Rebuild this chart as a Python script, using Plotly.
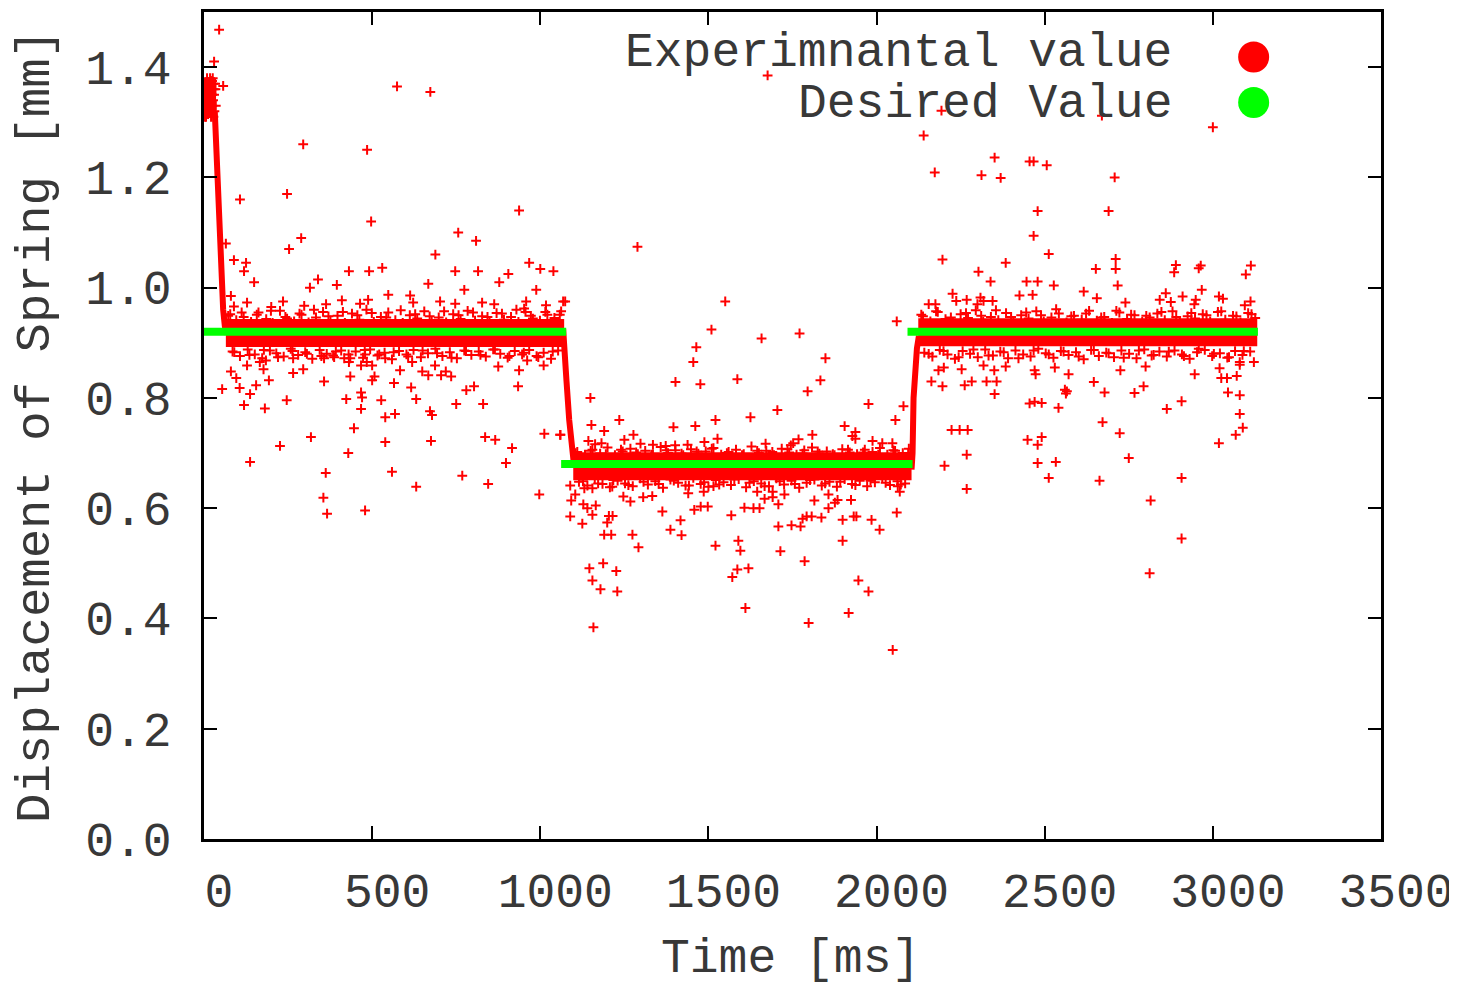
import plotly.graph_objects as go

# ---------------- data ----------------
# desired (set-point) value, three steps
desired_t = [0, 1077, None, 1062, 2107, None, 2092, 3134]
desired_v = [0.92, 0.92, None, 0.68, 0.68, None, 0.92, 0.92]

# dense core of the measured response on the three plateaus
plateau_t = [65, 1071, None, 1098, 2104, None, 2124, 3132]
plateau_v = [0.918, 0.918, None, 0.676, 0.676, None, 0.919, 0.919]

# dense initial cluster of samples
onset_t = [12, 12]
onset_v = [1.318, 1.378]

# measured response during the transitions
step_t = [32, 38, 44, 48, 52, 57, 62, 68, None,
          1068, 1072, 1078, 1086, 1094, 1100, None,
          2104, 2107, 2110, 2115, 2120, 2126]
step_v = [1.32, 1.22, 1.15, 1.09, 1.02, 0.96, 0.93, 0.915, None,
          0.925, 0.87, 0.83, 0.76, 0.70, 0.68, None,
          0.67, 0.70, 0.80, 0.85, 0.89, 0.913]

# initial cluster of samples (t, value)
start_cluster = [(1, 1.35), (2, 1.34), (3, 1.31), (4, 1.33), (5, 1.36), (6, 1.37), (7, 1.32),
                 (8, 1.33), (9, 1.38), (10, 1.35), (11, 1.34), (12, 1.37), (13, 1.35), (14, 1.33),
                 (15, 1.32), (16, 1.34), (17, 1.36), (18, 1.38), (19, 1.32), (20, 1.34), (21, 1.31),
                 (22, 1.36), (23, 1.35), (24, 1.35), (25, 1.33), (26, 1.38), (27, 1.34), (28, 1.37),
                 (29, 1.36), (30, 1.35), (31, 1.32), (33, 1.37), (34, 1.36), (35, 1.33), (2, 1.37),
                 (6, 1.31), (12, 1.315), (18, 1.325), (24, 1.375), (28, 1.31), (30, 1.41),
                 (45, 1.468), (57, 1.366)]

# samples scattered just above / below the dense band on each plateau
band1_above_t = [78, 96, 118, 140, 162, 185, 204, 226, 247, 268, 290, 311, 333, 354, 376, 397,
                 419, 440, 462, 483, 505, 526, 548, 569, 591, 612, 634, 655, 677, 698, 720, 741,
                 763, 784, 806, 827, 849, 870, 892, 913, 935, 956, 978, 999, 1021, 1042, 1062]
band1_above_v = [0.952, 0.941, 0.947, 0.938, 0.955, 0.943, 0.936, 0.958, 0.944, 0.939, 0.951,
                 0.937, 0.946, 0.956, 0.940, 0.949, 0.936, 0.953, 0.942, 0.960, 0.938, 0.947,
                 0.955, 0.941, 0.936, 0.950, 0.944, 0.957, 0.939, 0.946, 0.937, 0.952, 0.943,
                 0.958, 0.940, 0.948, 0.936, 0.954, 0.942, 0.947, 0.938, 0.956, 0.944, 0.940,
                 0.951, 0.945, 0.957]
band1_below_t = [85, 107, 130, 151, 173, 196, 215, 237, 258, 280, 301, 322, 344, 365, 387, 408,
                 430, 451, 473, 494, 516, 537, 559, 580, 602, 623, 645, 666, 688, 709, 731, 752,
                 774, 795, 817, 838, 860, 881, 903, 924, 946, 967, 989, 1010, 1032, 1053]
band1_below_v = [0.884, 0.876, 0.888, 0.879, 0.872, 0.886, 0.881, 0.875, 0.889, 0.878, 0.883,
                 0.871, 0.887, 0.880, 0.874, 0.886, 0.879, 0.884, 0.873, 0.888, 0.877, 0.882,
                 0.870, 0.885, 0.879, 0.887, 0.874, 0.881, 0.889, 0.876, 0.883, 0.872, 0.886,
                 0.878, 0.884, 0.875, 0.888, 0.880, 0.873, 0.885, 0.879, 0.887, 0.876, 0.882,
                 0.871, 0.886]
band1_extra_t = [72, 90, 112, 135, 157, 178, 199, 220, 242, 263, 284, 306, 327, 349, 370, 392,
                 413, 435, 456, 478, 499, 521, 542, 564, 585, 607, 628, 650, 671, 693, 714, 736,
                 757, 779, 800, 822, 843, 865, 886, 908, 929, 951, 972, 994, 1015, 1037, 1058]
band1_extra_v = [0.949, 0.883, 0.955, 0.878, 0.951, 0.887, 0.958, 0.874, 0.947, 0.885, 0.953,
                 0.880, 0.960, 0.876, 0.948, 0.884, 0.956, 0.872, 0.950, 0.887, 0.954, 0.879,
                 0.946, 0.883, 0.959, 0.875, 0.952, 0.886, 0.948, 0.881, 0.957, 0.873, 0.950,
                 0.885, 0.955, 0.878, 0.947, 0.888, 0.953, 0.876, 0.960, 0.882, 0.949, 0.874,
                 0.956, 0.884, 0.951]
band2_above_t = [1110, 1133, 1155, 1178, 1200, 1222, 1245, 1268, 1290, 1312, 1335, 1358, 1380,
                 1402, 1425, 1448, 1470, 1492, 1515, 1538, 1560, 1582, 1605, 1628, 1650, 1672,
                 1695, 1718, 1740, 1762, 1785, 1808, 1830, 1852, 1875, 1898, 1920, 1942, 1965,
                 1988, 2010, 2032, 2055, 2078, 2096]
band2_above_v = [0.702, 0.697, 0.706, 0.699, 0.710, 0.696, 0.703, 0.708, 0.698, 0.704, 0.697,
                 0.711, 0.700, 0.705, 0.696, 0.707, 0.699, 0.703, 0.709, 0.697, 0.702, 0.706,
                 0.698, 0.712, 0.700, 0.704, 0.696, 0.708, 0.701, 0.697, 0.705, 0.710, 0.699,
                 0.703, 0.696, 0.707, 0.701, 0.698, 0.706, 0.702, 0.709, 0.697, 0.704, 0.700,
                 0.708]
band2_below_t = [1115, 1140, 1162, 1185, 1207, 1230, 1252, 1275, 1297, 1320, 1342, 1365, 1387,
                 1410, 1432, 1455, 1477, 1500, 1522, 1545, 1567, 1590, 1612, 1635, 1657, 1680,
                 1702, 1725, 1747, 1770, 1792, 1815, 1837, 1860, 1882, 1905, 1927, 1950, 1972,
                 1995, 2017, 2040, 2062, 2085]
band2_below_v = [0.648, 0.641, 0.653, 0.644, 0.638, 0.650, 0.645, 0.640, 0.654, 0.643, 0.649,
                 0.637, 0.652, 0.646, 0.641, 0.655, 0.644, 0.639, 0.651, 0.647, 0.642, 0.653,
                 0.638, 0.649, 0.645, 0.640, 0.654, 0.643, 0.650, 0.637, 0.646, 0.652, 0.641,
                 0.648, 0.639, 0.653, 0.644, 0.650, 0.640, 0.647, 0.655, 0.642, 0.649, 0.645]
band2_extra_t = [1105, 1127, 1150, 1172, 1195, 1217, 1240, 1262, 1285, 1307, 1330, 1352, 1375,
                 1397, 1420, 1442, 1465, 1487, 1510, 1532, 1555, 1577, 1600, 1622, 1645, 1667,
                 1690, 1712, 1735, 1757, 1780, 1802, 1825, 1847, 1870, 1892, 1915, 1937, 1960,
                 1982, 2005, 2027, 2050, 2072, 2094]
band2_extra_v = [0.700, 0.649, 0.704, 0.645, 0.698, 0.651, 0.706, 0.642, 0.701, 0.648, 0.697,
                 0.644, 0.705, 0.650, 0.699, 0.641, 0.703, 0.647, 0.708, 0.643, 0.700, 0.652,
                 0.696, 0.646, 0.704, 0.640, 0.702, 0.649, 0.707, 0.644, 0.699, 0.651, 0.703,
                 0.645, 0.698, 0.648, 0.706, 0.642, 0.701, 0.650, 0.697, 0.646, 0.705, 0.643,
                 0.700]
band3_above_t = [2138, 2160, 2182, 2205, 2227, 2250, 2272, 2295, 2317, 2340, 2362, 2385, 2407,
                 2430, 2452, 2475, 2497, 2520, 2542, 2565, 2587, 2610, 2632, 2655, 2677, 2700,
                 2722, 2745, 2767, 2790, 2812, 2835, 2857, 2880, 2902, 2925, 2947, 2970, 2992,
                 3015, 3037, 3060, 3082, 3105, 3126]
band3_above_v = [0.948, 0.939, 0.956, 0.943, 0.936, 0.952, 0.945, 0.959, 0.938, 0.947, 0.941,
                 0.954, 0.936, 0.950, 0.944, 0.957, 0.939, 0.946, 0.953, 0.937, 0.949, 0.942,
                 0.958, 0.940, 0.947, 0.936, 0.955, 0.943, 0.950, 0.938, 0.946, 0.953, 0.941,
                 0.957, 0.936, 0.948, 0.944, 0.952, 0.939, 0.956, 0.942, 0.949, 0.937, 0.954,
                 0.945]
band3_below_t = [2142, 2166, 2188, 2211, 2233, 2256, 2278, 2301, 2323, 2346, 2368, 2391, 2413,
                 2436, 2458, 2481, 2503, 2526, 2548, 2571, 2593, 2616, 2638, 2661, 2683, 2706,
                 2728, 2751, 2773, 2796, 2818, 2841, 2863, 2886, 2908, 2931, 2953, 2976, 2998,
                 3021, 3043, 3066, 3088, 3111]
band3_below_v = [0.882, 0.875, 0.887, 0.879, 0.871, 0.885, 0.880, 0.874, 0.888, 0.877, 0.884,
                 0.872, 0.886, 0.879, 0.875, 0.889, 0.881, 0.873, 0.885, 0.878, 0.883, 0.870,
                 0.887, 0.876, 0.882, 0.874, 0.886, 0.880, 0.872, 0.888, 0.877, 0.884, 0.875,
                 0.886, 0.879, 0.871, 0.883, 0.887, 0.876, 0.881, 0.873, 0.885, 0.878, 0.884]
band3_extra_t = [2133, 2155, 2177, 2199, 2221, 2244, 2266, 2288, 2311, 2333, 2355, 2378, 2400,
                 2422, 2445, 2467, 2489, 2512, 2534, 2556, 2579, 2601, 2623, 2646, 2668, 2690,
                 2713, 2735, 2757, 2780, 2802, 2824, 2847, 2869, 2891, 2914, 2936, 2958, 2981,
                 3003, 3025, 3048, 3070, 3092, 3115]
band3_extra_v = [0.951, 0.880, 0.957, 0.885, 0.946, 0.874, 0.954, 0.888, 0.949, 0.877, 0.959,
                 0.883, 0.947, 0.872, 0.955, 0.886, 0.950, 0.879, 0.961, 0.884, 0.948, 0.875,
                 0.953, 0.887, 0.946, 0.881, 0.958, 0.873, 0.951, 0.886, 0.949, 0.878, 0.956,
                 0.884, 0.947, 0.876, 0.954, 0.889, 0.950, 0.880, 0.957, 0.874, 0.948, 0.885,
                 0.952]

# isolated outlying samples (t [ms], value [mm])
outliers_first_high = [(295, 1.26), (485, 1.25), (107, 1.16), (247, 1.17), (937, 1.14), (497, 1.12),
                       (289, 1.09), (756, 1.10), (809, 1.085), (253, 1.07), (65, 1.08), (688, 1.06),
                       (89, 1.05), (125, 1.045), (119, 1.03), (149, 1.01), (967, 1.045), (530, 1.036),
                       (491, 1.03), (431, 1.03), (339, 1.015), (315, 1.00), (395, 1.005), (747, 1.03),
                       (815, 1.03), (1000, 1.034), (1039, 1.03), (905, 1.025), (878, 1.01), (667, 1.007),
                       (774, 0.996), (988, 0.996), (548, 0.987), (613, 0.986), (80, 0.985), (128, 0.973),
                       (235, 0.975), (363, 0.97), (410, 0.977), (464, 0.971), (488, 0.978), (622, 0.973),
                       (702, 0.975), (747, 0.971), (827, 0.973), (863, 0.97), (958, 0.975), (1068, 0.975),
                       (200, 0.965), (89, 0.966), (298, 0.967), (1017, 0.968), (952, 0.962),
                       (574, 1.365), (673, 1.355)]
outliers_first_low = [(54, 0.816), (80, 0.848), (96, 0.836), (106, 0.818), (128, 0.859), (119, 0.787),
                      (137, 0.807), (137, 0.684), (155, 0.823), (166, 0.865), (177, 0.852), (184, 0.868),
                      (193, 0.832), (181, 0.781), (226, 0.713), (246, 0.796), (265, 0.845), (265, 0.872),
                      (295, 0.852), (318, 0.729), (357, 0.830), (357, 0.872), (362, 0.664), (355, 0.619),
                      (366, 0.590), (384, 0.877), (417, 0.872), (423, 0.798), (429, 0.700), (431, 0.865),
                      (435, 0.839), (446, 0.745), (467, 0.859), (467, 0.810), (470, 0.801), (467, 0.780),
                      (479, 0.879), (484, 0.865), (479, 0.596), (500, 0.859), (500, 0.832), (507, 0.839),
                      (527, 0.796), (539, 0.872), (539, 0.765), (539, 0.720), (559, 0.666), (565, 0.827),
                      (568, 0.771), (583, 0.850), (616, 0.819), (619, 0.865), (631, 0.639), (631, 0.798),
                      (649, 0.848), (667, 0.841), (672, 0.776), (678, 0.769), (675, 0.722), (687, 0.859),
                      (705, 0.841), (719, 0.848), (735, 0.839), (750, 0.789), (768, 0.659), (780, 0.814),
                      (803, 0.821), (830, 0.789), (836, 0.729), (845, 0.644), (866, 0.724), (875, 0.857),
                      (898, 0.682), (916, 0.709), (934, 0.821), (937, 0.850), (997, 0.625), (1012, 0.735),
                      (1059, 0.733), (1010, 0.859), (961, 0.868)]
outliers_mid_high = [(1289, 1.074), (1074, 0.975), (1550, 0.975), (2060, 0.939), (1509, 0.924),
                     (1771, 0.917), (1658, 0.908), (1464, 0.892), (1455, 0.865), (1848, 0.872),
                     (1402, 0.829), (1476, 0.825), (1586, 0.834), (1833, 0.832), (1795, 0.812),
                     (1149, 0.800), (1976, 0.789), (2080, 0.785), (1705, 0.778), (1625, 0.765),
                     (1235, 0.760), (1521, 0.760), (1152, 0.751), (1190, 0.740), (1396, 0.747),
                     (1461, 0.749), (1905, 0.749), (2056, 0.760), (1277, 0.733), (1809, 0.733),
                     (1928, 0.731), (1937, 0.738), (1937, 0.726), (1250, 0.724), (1527, 0.726),
                     (1298, 0.717), (1670, 0.717), (1752, 0.718), (1768, 0.725), (1745, 0.714),
                     (1143, 0.722), (1163, 0.716), (1182, 0.718), (1488, 0.720), (1988, 0.722),
                     (2017, 0.718), (2047, 0.718), (1335, 0.715), (1373, 0.713), (1401, 0.714),
                     (1438, 0.715), (1060, 0.733), (1676, 1.385)]
outliers_mid_low = [(1089, 0.641), (1104, 0.625), (1092, 0.614), (1089, 0.585), (1125, 0.572),
                    (1128, 0.607), (1140, 0.600), (1155, 0.588), (1165, 0.605), (1131, 0.636),
                    (1155, 0.636), (1190, 0.552), (1211, 0.552), (1199, 0.574), (1204, 0.586),
                    (1215, 0.586), (1146, 0.491), (1187, 0.500), (1155, 0.469), (1226, 0.486),
                    (1179, 0.453), (1229, 0.449), (1158, 0.384), (1214, 0.639), (1247, 0.621),
                    (1268, 0.612), (1274, 0.552), (1292, 0.529), (1306, 0.620), (1333, 0.622),
                    (1363, 0.594), (1387, 0.561), (1417, 0.578), (1420, 0.551), (1440, 0.627),
                    (1458, 0.597), (1477, 0.603), (1498, 0.603), (1486, 0.630), (1515, 0.640),
                    (1521, 0.532), (1568, 0.587), (1571, 0.475), (1586, 0.489), (1589, 0.541),
                    (1595, 0.523), (1607, 0.601), (1610, 0.419), (1619, 0.491), (1634, 0.600),
                    (1652, 0.600), (1645, 0.630), (1667, 0.617), (1691, 0.620), (1691, 0.630),
                    (1708, 0.607), (1708, 0.567), (1714, 0.522), (1726, 0.625), (1747, 0.569),
                    (1774, 0.567), (1780, 0.581), (1786, 0.504), (1792, 0.585), (1807, 0.585),
                    (1798, 0.392), (1815, 0.614), (1836, 0.583), (1857, 0.600), (1857, 0.625),
                    (1876, 0.610), (1884, 0.615), (1899, 0.579), (1899, 0.541), (1917, 0.410),
                    (1924, 0.615), (1932, 0.585), (1940, 0.585), (1946, 0.469), (1976, 0.449),
                    (1985, 0.579), (2009, 0.561), (2048, 0.343), (2060, 0.592), (2069, 0.630),
                    (2063, 0.640)]
outliers_last_high = [(2140, 1.276), (3000, 1.291), (2173, 1.209), (2351, 1.236), (2312, 1.204),
                      (2369, 1.199), (2455, 1.229), (2467, 1.229), (2506, 1.222), (2708, 1.200),
                      (2479, 1.139), (2690, 1.139), (2467, 1.094), (2512, 1.061), (2196, 1.051),
                      (2384, 1.045), (2711, 1.052), (2711, 1.034), (2652, 1.034), (2303, 1.029),
                      (2890, 1.041), (2964, 1.040), (2958, 1.035), (2885, 1.028), (3113, 1.040),
                      (3098, 1.024), (2339, 1.011), (2446, 1.011), (2479, 1.011), (2527, 1.004),
                      (2717, 1.004), (2226, 0.989), (2309, 0.982), (2425, 0.986), (2464, 0.987),
                      (2268, 0.978), (2616, 0.993), (2655, 0.981), (2842, 0.978), (2860, 0.990),
                      (2910, 0.984), (2949, 0.978), (2967, 0.996), (3018, 0.984), (3112, 0.975),
                      (2237, 0.976), (2318, 0.976), (2345, 0.976), (2300, 0.970), (2740, 0.973),
                      (2875, 0.974), (2945, 0.970), (2155, 0.970), (2175, 0.970), (3030, 0.980),
                      (3095, 0.968), (2193, 1.321), (2670, 1.312)]
outliers_last_low = [(2196, 0.821), (2202, 0.677), (2223, 0.742), (2247, 0.742), (2271, 0.742),
                     (2268, 0.697), (2268, 0.635), (2262, 0.823), (2253, 0.852), (2283, 0.830),
                     (2327, 0.830), (2357, 0.830), (2351, 0.807), (2350, 0.850), (2384, 0.857),
                     (2318, 0.859), (2449, 0.724), (2479, 0.715), (2491, 0.729), (2479, 0.682),
                     (2512, 0.655), (2533, 0.684), (2455, 0.790), (2470, 0.793), (2491, 0.791),
                     (2470, 0.850), (2473, 0.843), (2541, 0.782), (2560, 0.815), (2563, 0.808),
                     (2566, 0.812), (2571, 0.843), (2530, 0.855), (2646, 0.829), (2663, 0.650),
                     (2672, 0.756), (2678, 0.810), (2723, 0.736), (2725, 0.850), (2750, 0.691),
                     (2767, 0.809), (2794, 0.821), (2800, 0.857), (2815, 0.614), (2812, 0.482),
                     (2863, 0.780), (2907, 0.794), (2907, 0.655), (2907, 0.545), (2946, 0.843),
                     (3018, 0.718), (3020, 0.854), (3025, 0.836), (3042, 0.836), (3045, 0.810),
                     (3068, 0.733), (3071, 0.840), (3080, 0.805), (3080, 0.771), (3089, 0.746),
                     (3080, 0.860), (3080, 0.865), (3122, 0.865), (2184, 0.850), (2200, 0.855),
                     (2163, 0.830)]

x_ticks = [0, 500, 1000, 1500, 2000, 2500, 3000, 3500]
y_ticks = [0.0, 0.2, 0.4, 0.6, 0.8, 1.0, 1.2, 1.4]

legend_labels = ["Experimnantal value", "Desired Value"]
x_title = "Time [ms]"
y_title = "Displacement of Spring [mm]"

# ---------------- assemble samples ----------------
pairs = (start_cluster + outliers_first_high + outliers_first_low + outliers_mid_high
         + outliers_mid_low + outliers_last_high + outliers_last_low)
meas_t = [p[0] for p in pairs]
meas_v = [p[1] for p in pairs]
for ts, vs in [(band1_above_t, band1_above_v), (band1_below_t, band1_below_v),
               (band1_extra_t, band1_extra_v),
               (band2_above_t, band2_above_v), (band2_below_t, band2_below_v),
               (band2_extra_t, band2_extra_v),
               (band3_above_t, band3_above_v), (band3_below_t, band3_below_v),
               (band3_extra_t, band3_extra_v)]:
    meas_t += ts
    meas_v += vs

RED = "#ff0000"
GREEN = "#00ff00"
FONT = "Liberation Mono"
TXT = "#383838"

fig = go.Figure()
fig.add_trace(go.Scatter(x=plateau_t, y=plateau_v, mode="lines",
                         line=dict(color=RED, width=28), hoverinfo="skip"))
fig.add_trace(go.Scatter(x=onset_t, y=onset_v, mode="lines",
                         line=dict(color=RED, width=16), hoverinfo="skip"))
fig.add_trace(go.Scatter(x=step_t, y=step_v, mode="lines",
                         line=dict(color=RED, width=6), hoverinfo="skip"))
fig.add_trace(go.Scatter(x=meas_t, y=meas_v, mode="markers",
                         marker=dict(symbol="cross-thin", size=7, color=RED,
                                     line=dict(color=RED, width=2))))
fig.add_trace(go.Scatter(x=desired_t, y=desired_v, mode="lines",
                         line=dict(color=GREEN, width=8)))

axis_common = dict(showline=True, linecolor="black", linewidth=2.5, mirror="ticks",
                   ticks="inside", ticklen=13, tickwidth=2, tickcolor="black",
                   showgrid=False, zeroline=False,
                   tickfont=dict(family=FONT, size=48, color=TXT))

# the page is offset by the browser's 8px body margin
fig.update_layout(
    width=1449, height=979,
    margin=dict(l=196, r=76, t=1, b=148),
    paper_bgcolor="white", plot_bgcolor="white",
    showlegend=False,
    font=dict(family=FONT, size=48, color=TXT),
    xaxis=dict(range=[0, 3500], tickvals=x_ticks, ticktext=[str(v) for v in x_ticks],
               ticklabelshift=15, ticklabelstandoff=8, **axis_common),
    yaxis=dict(range=[0, 1.5], tickvals=y_ticks, ticktext=[f"{v:.1f}" for v in y_ticks],
               ticklabelstandoff=20, **axis_common),
)

# axis titles
fig.add_annotation(text=x_title, xref="paper", yref="paper", x=0.498, y=-0.1446,
                   xanchor="center", yanchor="middle", showarrow=False,
                   font=dict(family=FONT, size=48, color=TXT))
fig.add_annotation(text=y_title, xref="paper", yref="paper", x=-0.1427, y=0.4995,
                   xanchor="center", yanchor="middle", textangle=-90, showarrow=False,
                   font=dict(family=FONT, size=49, color=TXT))

# legend (gnuplot style: right-aligned text with symbol on the right)
legend_text_y = [0.9500, 0.8885]
legend_mark_y = [0.9456, 0.8905]
legend_colors = [RED, GREEN]
for lab, ty, my, col in zip(legend_labels, legend_text_y, legend_mark_y, legend_colors):
    fig.add_annotation(text=lab, xref="paper", yref="paper", x=0.824, y=ty,
                       xanchor="right", yanchor="middle", showarrow=False,
                       font=dict(family=FONT, size=48, color=TXT))
    fig.add_shape(type="circle", xref="paper", yref="paper", xsizemode="pixel",
                  ysizemode="pixel", xanchor=0.8918, yanchor=my,
                  x0=-15.5, x1=15.5, y0=-15.5, y1=15.5,
                  fillcolor=col, line=dict(color=col, width=0))

fig.write_html("out.html")
